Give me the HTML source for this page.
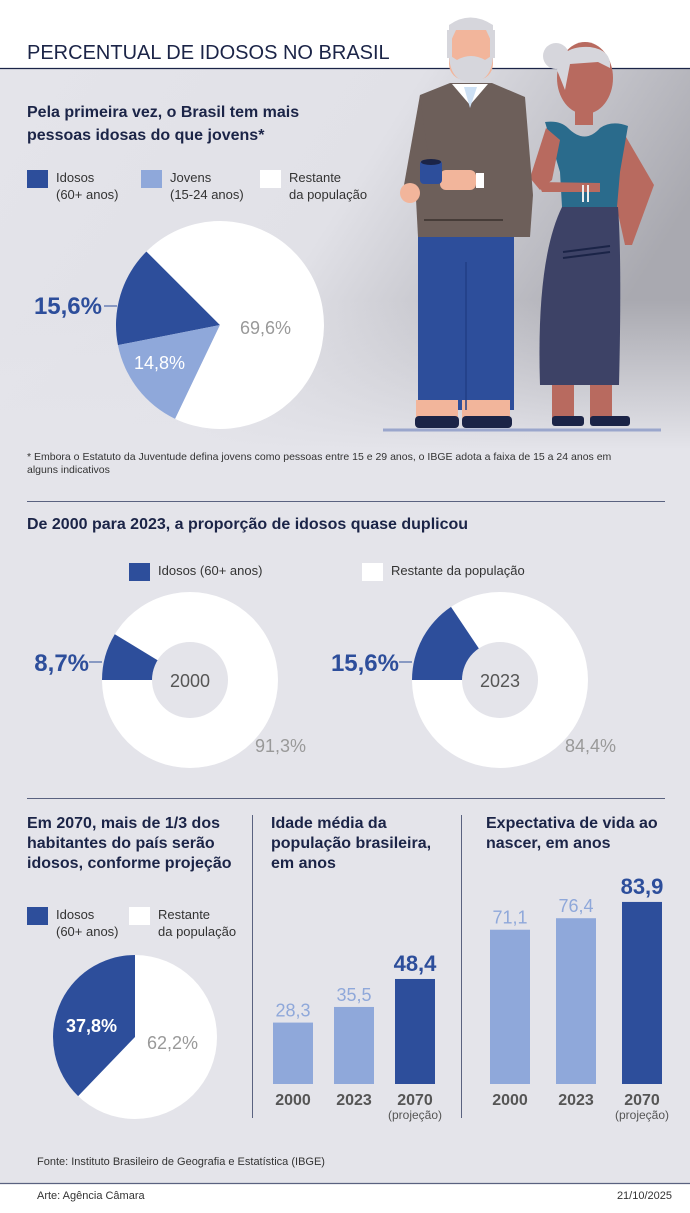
<!DOCTYPE html>
<html><head><meta charset="utf-8">
<style>
html,body{margin:0;padding:0}
body{width:690px;height:1208px;overflow:hidden;font-family:"Liberation Sans",sans-serif;background:#fff}
svg text{font-family:"Liberation Sans",sans-serif}
</style></head>
<body>
<svg id="c" width="690" height="1208" viewBox="0 0 690 1208" xmlns="http://www.w3.org/2000/svg">
<defs>
<linearGradient id="bgG" x1="0" y1="0" x2="1" y2="0.35">
<stop offset="0" stop-color="#e4e4ea"/><stop offset="0.55" stop-color="#e1e1e7"/><stop offset="1" stop-color="#a9a9b0"/>
</linearGradient>
<linearGradient id="bgV" x1="0" y1="0" x2="0" y2="1">
<stop offset="0" stop-color="#e4e4ea" stop-opacity="0"/><stop offset="1" stop-color="#e4e4ea" stop-opacity="1"/>
</linearGradient>
</defs>
<rect x="0" y="68" width="690" height="1115" fill="#e4e4ea"/>
<rect x="0" y="68" width="690" height="380" fill="url(#bgG)"/>
<rect x="0" y="300" width="690" height="150" fill="url(#bgV)"/>
<text x="27" y="59" font-size="20" fill="#1b2447">PERCENTUAL DE IDOSOS NO BRASIL</text>
<line x1="0" y1="68.5" x2="690" y2="68.5" stroke="#1b2447" stroke-width="1.2"/>

<g>
<line x1="383" y1="430" x2="661" y2="430" stroke="#9aa6cc" stroke-width="3"/>
<!-- woman -->
<rect x="575" y="100" width="18" height="25" fill="#b86a5f"/>
<path d="M622 130 L654 185 L632 245 L625 245 L615 200 Z" fill="#b86a5f"/>
<rect x="552" y="385" width="22" height="35" fill="#b86a5f"/>
<rect x="590" y="385" width="22" height="35" fill="#b86a5f"/>
<path d="M545 122 Q560 120 568 128 Q585 145 600 128 Q612 120 628 126 L620 172 L617 207 L562 207 L560 172 Z" fill="#2a6b8c"/>
<path d="M546 128 L530 178 L540 190 L552 180 L560 140 Z" fill="#b86a5f"/>
<path d="M538 182 L600 183 L600 192 L542 192 Z" fill="#b86a5f"/>
<rect x="582" y="185" width="2" height="17" fill="#eee"/><rect x="587" y="185" width="2" height="17" fill="#eee"/>
<path d="M562 207 L618 207 Q622 260 619 385 L540 385 Q536 260 562 207 Z" fill="#3d4266"/>
<line x1="563" y1="252" x2="610" y2="246" stroke="#1b2447" stroke-width="2"/>
<line x1="563" y1="258" x2="610" y2="252" stroke="#1b2447" stroke-width="2"/>
<ellipse cx="585" cy="78" rx="28" ry="36" fill="#b86a5f"/>
<path d="M557 70 Q560 45 590 47 Q612 50 610 68 L598 62 L570 64 L565 90 Z" fill="#d6d6dc"/>
<circle cx="556" cy="56" r="13" fill="#d6d6dc"/>
<rect x="552" y="416" width="32" height="10" rx="3" fill="#1b2447"/>
<rect x="590" y="416" width="40" height="10" rx="3" fill="#1b2447"/>
<!-- man -->
<rect x="418" y="235" width="96" height="175" fill="#2d4e9b"/>
<rect x="416" y="400" width="42" height="20" fill="#f2b59b"/>
<rect x="462" y="400" width="48" height="20" fill="#f2b59b"/>
<line x1="466" y1="262" x2="466" y2="410" stroke="#223f86" stroke-width="1.5"/>
<rect x="415" y="416" width="44" height="12" rx="4" fill="#1b2447"/>
<rect x="462" y="416" width="50" height="12" rx="4" fill="#1b2447"/>
<path d="M420 95 L450 83 L492 83 L525 97 L533 195 L530 237 L418 237 L415 180 Z" fill="#6d5f5a"/>
<path d="M420 95 L404 185 L412 192 L432 185 Z" fill="#6d5f5a"/>
<path d="M452 84 L470 105 L488 84 Z" fill="#fff"/>
<path d="M464 87 L470 108 L477 87 Z" fill="#cde0f4"/>
<ellipse cx="410" cy="193" rx="10" ry="10" fill="#f2b59b"/>
<rect x="440" y="170" width="36" height="20" rx="6" fill="#f2b59b"/>
<rect x="476" y="173" width="8" height="15" fill="#fff"/>
<rect x="420" y="160" width="22" height="24" rx="4" fill="#2d4e9b"/>
<ellipse cx="431" cy="162" rx="10" ry="3" fill="#1b2447"/>
<line x1="424" y1="220" x2="503" y2="220" stroke="#3a302d" stroke-width="1.5"/>
<rect x="449" y="22" width="44" height="58" rx="16" fill="#f2b59b"/>
<path d="M449 45 L449 25 Q470 10 493 25 L493 45 L486 30 L456 30 Z" fill="#d6d6dc"/>
<path d="M449 55 Q450 82 471 82 Q492 82 493 55 L485 60 Q471 52 457 60 Z" fill="#d6d6dc"/>
<rect x="447" y="30" width="5" height="28" fill="#d6d6dc"/><rect x="490" y="30" width="5" height="28" fill="#d6d6dc"/>
</g>

<text x="27" y="117" font-size="16" font-weight="bold" fill="#1b2447"><tspan x="27">Pela primeira vez, o Brasil tem mais</tspan><tspan x="27" dy="23">pessoas idosas do que jovens*</tspan></text>
<g>
<rect x="27" y="170" width="21" height="18" fill="#2d4e9b"/>
<text font-size="13" fill="#333"><tspan x="56" y="182">Idosos</tspan><tspan x="56" y="199">(60+ anos)</tspan></text>
<rect x="141" y="170" width="21" height="18" fill="#8fa8da"/>
<text font-size="13" fill="#333"><tspan x="170" y="182">Jovens</tspan><tspan x="170" y="199">(15-24 anos)</tspan></text>
<rect x="260" y="170" width="21" height="18" fill="#fff"/>
<text font-size="13" fill="#333"><tspan x="289" y="182">Restante</tspan><tspan x="289" y="199">da população</tspan></text>
</g>
<g id="pie1"></g>
<text x="27" y="460" font-size="10.5" fill="#333"><tspan x="27">* Embora o Estatuto da Juventude defina jovens como pessoas entre 15 e 29 anos, o IBGE adota a faixa de 15 a 24 anos em</tspan><tspan x="27" dy="13">alguns indicativos</tspan></text>
<line x1="27" y1="501.5" x2="665" y2="501.5" stroke="#5a6280" stroke-width="1"/>

<text x="27" y="529" font-size="16" font-weight="bold" fill="#1b2447">De 2000 para 2023, a proporção de idosos quase duplicou</text>
<rect x="129" y="563" width="21" height="18" fill="#2d4e9b"/>
<text x="158" y="575" font-size="13" fill="#333">Idosos (60+ anos)</text>
<rect x="362" y="563" width="21" height="18" fill="#fff"/>
<text x="391" y="575" font-size="13" fill="#333">Restante da população</text>
<g id="donuts"></g>
<line x1="27" y1="798.5" x2="665" y2="798.5" stroke="#5a6280" stroke-width="1"/>

<text font-size="16" font-weight="bold" fill="#1b2447"><tspan x="27" y="828">Em 2070, mais de 1/3 dos</tspan><tspan x="27" dy="20">habitantes do país serão</tspan><tspan x="27" dy="20">idosos, conforme projeção</tspan></text>
<text font-size="16" font-weight="bold" fill="#1b2447"><tspan x="271" y="828">Idade média da</tspan><tspan x="271" dy="20">população brasileira,</tspan><tspan x="271" dy="20">em anos</tspan></text>
<text font-size="16" font-weight="bold" fill="#1b2447"><tspan x="486" y="828">Expectativa de vida ao</tspan><tspan x="486" dy="20">nascer, em anos</tspan></text>
<line x1="252.5" y1="815" x2="252.5" y2="1118" stroke="#5a6280" stroke-width="1"/>
<line x1="461.5" y1="815" x2="461.5" y2="1118" stroke="#5a6280" stroke-width="1"/>
<rect x="27" y="907" width="21" height="18" fill="#2d4e9b"/>
<text font-size="13" fill="#333"><tspan x="56" y="919">Idosos</tspan><tspan x="56" y="936">(60+ anos)</tspan></text>
<rect x="129" y="907" width="21" height="18" fill="#fff"/>
<text font-size="13" fill="#333"><tspan x="158" y="919">Restante</tspan><tspan x="158" y="936">da população</tspan></text>
<g id="pie3"></g>
<g id="bars1"></g>
<g id="bars2"></g>

<text x="37" y="1165" font-size="11" fill="#333">Fonte: Instituto Brasileiro de Geografia e Estatística (IBGE)</text>
<rect x="0" y="1183" width="690" height="25" fill="#fff"/>
<line x1="0" y1="1183.5" x2="690" y2="1183.5" stroke="#5a6280" stroke-width="1.2"/>
<text x="37" y="1199" font-size="11" fill="#333">Arte: Agência Câmara</text>
<text x="672" y="1199" font-size="11" fill="#333" text-anchor="end">21/10/2025</text>
</svg>
<script>
const pie1Labels = ["Idosos", "Jovens", "Restante"];
const pie1Values = [15.6, 14.8, 69.6];
const donutYears = ["2000", "2023"];
const donutIdosos = [8.7, 15.6];
const pie3Values = [37.8, 62.2];
const ageYears = ["2000", "2023", "2070"];
const medianAge = [28.3, 35.5, 48.4];
const lifeExpectancy = [71.1, 76.4, 83.9];

const NS = "http://www.w3.org/2000/svg";
const DARK = "#2d4e9b", LIGHT = "#8fa8da";
function mk(tag, attrs, parent) {
  const e = document.createElementNS(NS, tag);
  for (const k in attrs) e.setAttribute(k, attrs[k]);
  parent.appendChild(e);
  return e;
}
function pt(cx, cy, r, deg) { const a = deg * Math.PI / 180; return [cx + r * Math.sin(a), cy - r * Math.cos(a)]; }
function slice(cx, cy, r, startDeg, spanDeg) {
  const p0 = pt(cx, cy, r, startDeg), p1 = pt(cx, cy, r, startDeg - spanDeg);
  const large = spanDeg > 180 ? 1 : 0;
  return `M${cx},${cy} L${p0[0]},${p0[1]} A${r},${r} 0 ${large} 0 ${p1[0]},${p1[1]} Z`;
}
function fmt(v) { return v.toFixed(1).replace(".", ","); }
function txt(parent, x, y, s, size, fill, weight, anchor) {
  const t = mk("text", { x: x, y: y, "font-size": size, fill: fill, "font-weight": weight || "normal", "text-anchor": anchor || "start" }, parent);
  t.textContent = s;
  return t;
}

(function () {
  const g = document.getElementById("pie1");
  const cx = 220, cy = 325, r = 104;
  const colors = [DARK, LIGHT, "#fff"];
  let start = 315;
  pie1Values.forEach((v, i) => {
    const span = v / 100 * 360;
    const p = mk("path", { d: slice(cx, cy, r, start, span), fill: colors[i] }, g);
    
    
    start -= span;
  });
  mk("line", { x1: 104, y1: 306, x2: 117, y2: 306, stroke: DARK, "stroke-width": 1 }, g);
  const l1 = txt(g, 102, 314, fmt(pie1Values[0]) + "%", 24, DARK, "bold", "end");
  
  
  const l2 = txt(g, 134, 369, fmt(pie1Values[1]) + "%", 18, "#fff");
  
  
  const l3 = txt(g, 240, 334, fmt(pie1Values[2]) + "%", 18, "#999");
  
  
})();

(function () {
  const g = document.getElementById("donuts");
  const centers = [[190, 680], [500, 680]];
  donutYears.forEach((yr, i) => {
    const [cx, cy] = centers[i];
    const r = 88;
    const w = mk("circle", { cx: cx, cy: cy, r: r, fill: "#fff" }, g);
    
    
    const span = donutIdosos[i] / 100 * 360;
    const d = mk("path", { d: slice(cx, cy, r, 270 + span, span), fill: DARK }, g);
    
    
    mk("circle", { cx: cx, cy: cy, r: 38, fill: "#e4e4ea" }, g);
    const yl = txt(g, cx, cy + 7, yr, 18, "#555", "normal", "middle");
    
    
    mk("line", { x1: cx - r - 13, y1: cy - 18, x2: cx - r, y2: cy - 18, stroke: DARK, "stroke-width": 1 }, g);
    const a = txt(g, cx - r - 13, cy - 9, fmt(donutIdosos[i]) + "%", 24, DARK, "bold", "end");
    
    
    const b = txt(g, cx + 65, cy + 72, fmt(100 - donutIdosos[i]) + "%", 18, "#999");
    
    
  });
})();

(function () {
  const g = document.getElementById("pie3");
  const cx = 135, cy = 1037, r = 82;
  const w = mk("circle", { cx: cx, cy: cy, r: r, fill: "#fff" }, g);
  
  
  const span = pie3Values[0] / 100 * 360;
  const d = mk("path", { d: slice(cx, cy, r, 0, span), fill: DARK }, g);
  
  
  const a = txt(g, 66, 1032, fmt(pie3Values[0]) + "%", 18, "#fff", "bold");
  
  
  const b = txt(g, 147, 1049, fmt(pie3Values[1]) + "%", 18, "#999");
  
  
})();

function bars(id, values, x0, step, prefix) {
  const g = document.getElementById(id);
  const base = 1084, k = 2.17, bw = 40;
  const y = v => base - v * k;
  values.forEach((v, i) => {
    const x = x0 + i * step;
    const last = i === values.length - 1;
    const r = mk("rect", { x: x, y: y(v), width: bw, height: base - y(v), fill: last ? DARK : LIGHT }, g);
    
    
    const vl = txt(g, x + bw / 2, y(v) - (last ? 8 : 6), fmt(v), last ? 22 : 18, last ? DARK : LIGHT, last ? "bold" : "normal", "middle");
    
    
    const xl = txt(g, x + bw / 2, 1105, ageYears[i], 16, "#555", "bold", "middle");
    
    
    if (last) {
      const p = txt(g, x + bw / 2, 1119, "(projeção)", 12, "#555", "normal", "middle");
      
      
    }
  });
}
bars("bars1", medianAge, 273, 61, "median-age");
bars("bars2", lifeExpectancy, 490, 66, "life-expectancy");
</script>
</body></html>
